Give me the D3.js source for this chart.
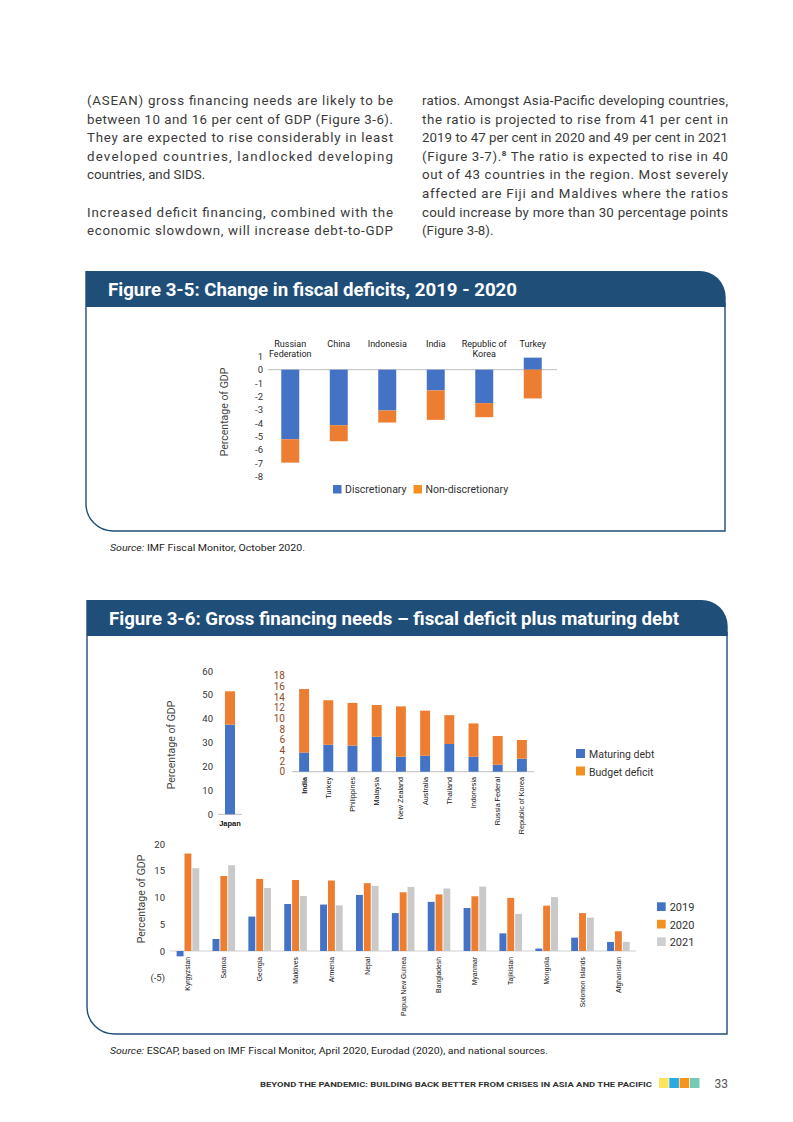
<!DOCTYPE html>
<html>
<head>
<meta charset="utf-8">
<script src="https://cdn.jsdelivr.net/npm/d3@7"></script>
<style>
body { margin: 0; background: #fff; }
svg { display: block; font-family: Roboto, "Liberation Sans", sans-serif; }
</style>
</head>
<body>
<div id="page"></div>
<script>
'use strict';

// ---- body text ('~' at the start marks a line that is not justified) ----
let leftLines = [
	'(ASEAN) gross financing needs are likely to be',
	'between 10 and 16 per cent of GDP (Figure 3-6).',
	'They are expected to rise considerably in least',
	'developed countries, landlocked developing',
	'~countries, and SIDS.',
	'',
	'Increased deficit financing, combined with the',
	'economic slowdown, will increase debt-to-GDP',
];
let rightLines = [
	'ratios. Amongst Asia-Pacific developing countries,',
	'the ratio is projected to rise from 41 per cent in',
	'2019 to 47 per cent in 2020 and 49 per cent in 2021',
	'(Figure 3-7).|8| The ratio is expected to rise in 40',
	'out of 43 countries in the region. Most severely',
	'affected are Fiji and Maldives where the ratios',
	'could increase by more than 30 percentage points',
	'~(Figure 3-8).',
];

// ---- Figure 3-5 ----
let f5Countries = ['Russian Federation', 'China', 'Indonesia', 'India', 'Republic of Korea', 'Turkey'];
let f5Labels = [['Russian', 'Federation'], ['China'], ['Indonesia'], ['India'], ['Republic of', 'Korea'], ['Turkey']];
let f5Discretionary = [-5.2, -4.15, -3.05, -1.55, -2.5, 0.9];
let f5NonDiscretionary = [-1.75, -1.2, -0.9, -2.2, -1.05, -2.15];
let f5Series = ['Discretionary', 'Non-discretionary'];
let f5Ticks = [1, 0, -1, -2, -3, -4, -5, -6, -7, -8];

// ---- Figure 3-6, Japan ----
let jpCountries = ['Japan'];
let jpMaturing = [37.5];
let jpDeficit = [14];
let jpTicks = [0, 10, 20, 30, 40, 50, 60];

// ---- Figure 3-6, other economies ----
let gfnCountries = ['India', 'Turkey', 'Philippines', 'Malaysia', 'New Zealand', 'Australia', 'Thailand', 'Indonesia', 'Russia Federal', 'Republic of Korea'];
let gfnMaturing = [3.6, 5.05, 4.9, 6.55, 2.8, 3.0, 5.2, 2.8, 1.3, 2.45];
let gfnDeficit = [11.9, 8.35, 8.0, 5.95, 9.45, 8.45, 5.4, 6.25, 5.4, 3.5];
let gfnSeries = ['Maturing debt', 'Budget deficit'];
let gfnTicks = [0, 2, 4, 6, 8, 10, 12, 14, 16, 18];

// ---- Figure 3-6, lower panel ----
let lowCountries = ['Kyrgyzstan', 'Samoa', 'Georgia', 'Maldives', 'Armenia', 'Nepal', 'Papua New Guinea', 'Bangladesh', 'Myanmar', 'Tajikistan', 'Mongolia', 'Solomon Islands', 'Afghanistan'];
let low2019 = [-1.0, 2.25, 6.45, 8.8, 8.7, 10.5, 7.1, 9.2, 8.05, 3.3, 0.45, 2.5, 1.7];
let low2020 = [18.25, 14.05, 13.5, 13.3, 13.2, 12.7, 11.0, 10.6, 10.25, 9.95, 8.5, 7.1, 3.7];
let low2021 = [15.5, 16.05, 11.8, 10.3, 8.55, 12.2, 12.0, 11.7, 12.05, 6.95, 10.1, 6.25, 1.7];
let lowYears = ['2019', '2020', '2021'];
let lowTicks = [-5, 0, 5, 10, 15, 20];

const BLUE = '#4472c4', ORANGE = '#ed7d31', GREY = '#c9c9c9', NAVY = '#1f4e79';
const TXT = '#3a3a3a';

let svg = d3.select('#page').append('svg')
	.attr('width', 793)
	.attr('height', 1122)
	;

// ---------- body paragraphs ----------
function column(lines, x, width, y0) {
	let g = svg.append('g').attr('fill', TXT).style('font-size', '13.3px');
	lines.forEach(function(line, i) {
		if (!line) return;
		let ragged = line[0] == '~';
		if (ragged) line = line.substring(1);
		let t = g.append('text').attr('x', x).attr('y', y0 + i * 18.6);
		let parts = line.split('|');
		parts.forEach(function(p, j) {
			let ts = t.append('tspan').text(p);
			if (j == 1) {
				ts.attr('dy', -5).style('font-size', '8px').style('font-weight', 'bold');
			}
			if (j == 2) {
				ts.attr('dy', 5);
			}
		});
		if (!ragged) {
			t.attr('textLength', width).attr('lengthAdjust', 'spacing');
		}
	});
}
column(leftLines, 87, 306, 105);
column(rightLines, 422, 306, 105);

// ---------- figure frames ----------
function frame(top, hdrBottom, bottom, left, right, title, titleWidth) {
	svg.append('path')
		.attr('d', `M${left},${hdrBottom} L${left},${bottom - 27} A27,27 0 0 0 ${left + 27},${bottom} L${right},${bottom} L${right},${hdrBottom - 4}`)
		.attr('fill', 'none')
		.attr('stroke', NAVY)
		.attr('stroke-width', 1.4)
		;
	svg.append('path')
		.attr('d', `M${left - 0.7},${hdrBottom} L${left - 0.7},${top} L${right - 26},${top} A26,26 0 0 1 ${right + 0.7},${top + 26} L${right + 0.7},${hdrBottom} Z`)
		.attr('fill', NAVY)
		;
	svg.append('text')
		.attr('x', left + 22)
		.attr('y', top + 25)
		.attr('fill', '#fff')
		.style('font-size', '18px')
		.style('font-weight', 'bold')
		.attr('textLength', titleWidth)
		.attr('lengthAdjust', 'spacingAndGlyphs')
		.text(title)
		;
}
frame(271, 307, 531, 86, 725, 'Figure 3-5: Change in fiscal deficits, 2019 - 2020', 409);
frame(600, 636, 1034, 87, 727, 'Figure 3-6: Gross financing needs \u2013 fiscal deficit plus maturing debt', 570);

function source(y, rest, width) {
	let t = svg.append('text')
		.attr('x', 110).attr('y', y)
		.attr('fill', '#222')
		.style('font-size', '9.6px')
		;
	t.append('tspan').style('font-style', 'italic').text('Source:');
	t.append('tspan').text(' ' + rest);
	t.attr('textLength', width).attr('lengthAdjust', 'spacingAndGlyphs');
}
source(551, 'IMF Fiscal Monitor, October 2020.', 195);
source(1054, 'ESCAP, based on IMF Fiscal Monitor, April 2020, Eurodad (2020), and national sources.', 438);

// ---------- helpers ----------
function yTicks(scale, ticks, x, fmt, color, size) {
	svg.append('g')
		.attr('transform', `translate(${x},0)`)
		.call(d3.axisLeft(scale).tickValues(ticks).tickSize(0).tickPadding(0).tickFormat(fmt))
		.call(a => a.select('.domain').remove())
		.attr('font-family', 'Roboto, sans-serif')
		.attr('font-size', size)
		.call(a => a.selectAll('text').attr('fill', color))
		;
}
function yTitle(x, y, size) {
	svg.append('text')
		.attr('transform', `translate(${x},${y}) rotate(-90)`)
		.attr('text-anchor', 'middle')
		.attr('fill', '#444')
		.style('font-size', size)
		.text('Percentage of GDP')
		;
}
function legend(items, colors, x, y0, dy, sq, size) {
	let g = svg.append('g');
	items.forEach(function(name, i) {
		g.append('rect')
			.attr('x', x).attr('y', y0 + i * dy - sq)
			.attr('width', sq).attr('height', sq)
			.attr('fill', colors[i]);
		g.append('text')
			.attr('x', x + sq + 4).attr('y', y0 + i * dy)
			.attr('fill', '#333')
			.style('font-size', size)
			.text(name);
	});
}
function vLabels(scale, names, yTop, size, boldFirst) {
	svg.append('g').selectAll('text')
		.data(names)
		.join('text')
			.attr('transform', d => `translate(${scale(d) + scale.bandwidth() / 2},${yTop}) rotate(-90)`)
			.attr('text-anchor', 'end')
			.attr('dy', '0.35em')
			.attr('fill', '#111')
			.style('font-family', '"Liberation Sans Narrow", "Liberation Sans", sans-serif')
			.style('font-size', size)
			.style('font-weight', (d, i) => boldFirst && i == 0 ? 'bold' : 'normal')
			.text(d => d)
		;
}

// ---------- Figure 3-5 chart ----------
{
	let rows = f5Countries.map((c, i) => ({country: c, 'Discretionary': f5Discretionary[i], 'Non-discretionary': f5NonDiscretionary[i]}));
	let x = d3.scaleBand().domain(f5Countries).range([266, 557]).paddingInner(0.63).paddingOuter(0.315);
	let y = d3.scaleLinear().domain([-8, 1]).range([476.7, 356.3]);
	let stack = d3.stack().keys(f5Series).offset(d3.stackOffsetDiverging)(rows);

	svg.append('line')
		.attr('x1', 268).attr('x2', 557)
		.attr('y1', y(0)).attr('y2', y(0))
		.attr('stroke', '#bfbfbf').attr('stroke-width', 1);

	svg.append('g').selectAll('g')
		.data(stack)
		.join('g')
			.attr('fill', (d, i) => [BLUE, ORANGE][i])
		.selectAll('rect')
		.data(d => d)
		.join('rect')
			.attr('x', d => x(d.data.country))
			.attr('width', x.bandwidth())
			.attr('y', d => y(Math.max(d[0], d[1])))
			.attr('height', d => Math.abs(y(d[0]) - y(d[1])))
		;

	yTicks(y, f5Ticks, 263, d => String(d), '#333', '9.5px');
	yTitle(228, 412, '10.5px');

	let lab = svg.append('g').attr('fill', '#222').style('font-size', '9px').attr('text-anchor', 'middle');
	f5Countries.forEach(function(c, i) {
		f5Labels[i].forEach(function(l, j) {
			lab.append('text')
				.attr('x', x(c) + x.bandwidth() / 2)
				.attr('y', 347 + j * 10.3)
				.text(l);
		});
	});

	svg.append('g').call(function(g) {
		g.append('rect').attr('x', 333).attr('y', 485).attr('width', 8.5).attr('height', 8.5).attr('fill', BLUE);
		g.append('text').attr('x', 345).attr('y', 493).attr('fill', '#333').style('font-size', '10.5px').text(f5Series[0]);
		g.append('rect').attr('x', 413.5).attr('y', 485).attr('width', 8.5).attr('height', 8.5).attr('fill', '#f39022');
		g.append('text').attr('x', 425.5).attr('y', 493).attr('fill', '#333').style('font-size', '10.5px').text(f5Series[1]);
	});
}

// ---------- Figure 3-6, Japan ----------
{
	let rows = jpCountries.map((c, i) => ({country: c, 'Maturing debt': jpMaturing[i], 'Budget deficit': jpDeficit[i]}));
	let x = d3.scaleBand().domain(jpCountries).range([218, 242]).padding(0.41);
	let y = d3.scaleLinear().domain([0, 60]).range([814.3, 671]);
	let stack = d3.stack().keys(gfnSeries)(rows);

	svg.append('line')
		.attr('x1', 218).attr('x2', 242)
		.attr('y1', y(0)).attr('y2', y(0))
		.attr('stroke', '#bfbfbf');

	svg.append('g').selectAll('g')
		.data(stack)
		.join('g')
			.attr('fill', (d, i) => [BLUE, ORANGE][i])
		.selectAll('rect')
		.data(d => d)
		.join('rect')
			.attr('x', d => x(d.data.country))
			.attr('width', x.bandwidth())
			.attr('y', d => y(d[1]))
			.attr('height', d => y(d[0]) - y(d[1]))
		;

	yTicks(y, jpTicks, 213, d => String(d), '#333', '9.5px');
	yTitle(175, 745, '10.5px');

	svg.append('text')
		.attr('x', x('Japan') + x.bandwidth() / 2)
		.attr('y', 826)
		.attr('text-anchor', 'middle')
		.attr('fill', '#111')
		.style('font-family', '"Liberation Sans Narrow", "Liberation Sans", sans-serif')
		.style('font-size', '7.5px')
		.style('font-weight', 'bold')
		.text('Japan');
}

// ---------- Figure 3-6, other economies ----------
{
	let rows = gfnCountries.map((c, i) => ({country: c, 'Maturing debt': gfnMaturing[i], 'Budget deficit': gfnDeficit[i]}));
	let x = d3.scaleBand().domain(gfnCountries).range([292, 534]).paddingInner(0.59).paddingOuter(0.295);
	let y = d3.scaleLinear().domain([0, 18]).range([771.7, 675.7]);
	let stack = d3.stack().keys(gfnSeries)(rows);

	svg.append('line')
		.attr('x1', 292).attr('x2', 534)
		.attr('y1', y(0)).attr('y2', y(0))
		.attr('stroke', '#bfbfbf');

	svg.append('g').selectAll('g')
		.data(stack)
		.join('g')
			.attr('fill', (d, i) => [BLUE, ORANGE][i])
		.selectAll('rect')
		.data(d => d)
		.join('rect')
			.attr('x', d => x(d.data.country))
			.attr('width', x.bandwidth())
			.attr('y', d => y(d[1]))
			.attr('height', d => y(d[0]) - y(d[1]))
		;

	yTicks(y, gfnTicks, 285, d => String(d), '#8e4a22', '10px');
	vLabels(x, gfnCountries, 777, '7.2px', true);
	legend(gfnSeries, [BLUE, '#f39022'], 576, 758, 17.5, 9, '10.5px');
}

// ---------- Figure 3-6, lower panel ----------
{
	let vals = {'2019': low2019, '2020': low2020, '2021': low2021};
	let x0 = d3.scaleBand().domain(lowCountries).range([170, 636.3]).paddingInner(0.37).paddingOuter(0.185);
	let x1 = d3.scaleBand().domain(lowYears).range([0, x0.bandwidth()]).paddingInner(0.12);
	let y = d3.scaleLinear().domain([-5, 20]).range([977.7, 844.2]);
	let color = d3.scaleOrdinal().domain(lowYears).range([BLUE, ORANGE, GREY]);

	svg.append('line')
		.attr('x1', 170).attr('x2', 636.3)
		.attr('y1', y(0)).attr('y2', y(0))
		.attr('stroke', '#d0d0d0').attr('stroke-width', 1.2);

	svg.append('g').selectAll('g')
		.data(lowCountries)
		.join('g')
			.attr('transform', d => `translate(${x0(d)},0)`)
		.selectAll('rect')
		.data((c, i) => lowYears.map(yr => ({year: yr, v: vals[yr][i]})))
		.join('rect')
			.attr('x', d => x1(d.year))
			.attr('width', x1.bandwidth())
			.attr('y', d => y(Math.max(0, d.v)))
			.attr('height', d => Math.abs(y(d.v) - y(0)))
			.attr('fill', d => color(d.year))
		;

	yTicks(y, lowTicks, 165, d => d < 0 ? '(' + d + ')' : String(d), '#333', '9.5px');
	yTitle(145, 899, '10.5px');
	vLabels(x0, lowCountries, 957, '6.8px', false);
	legend(lowYears, [BLUE, '#f39022', '#cfcfcf'], 657, 911, 17.5, 8.7, '11px');
}

// ---------- footer ----------
svg.append('text')
	.attr('x', 260).attr('y', 1087)
	.attr('fill', '#333')
	.style('font-size', '8px')
	.style('font-weight', 'bold')
	.attr('textLength', 392)
	.attr('lengthAdjust', 'spacingAndGlyphs')
	.text('BEYOND THE PANDEMIC: BUILDING BACK BETTER FROM CRISES IN ASIA AND THE PACIFIC');

svg.append('g').selectAll('rect')
	.data(['#f9e45b', '#29aae1', '#f7941d', '#75c9b7'])
	.join('rect')
		.attr('x', (d, i) => 659 + i * 10.3)
		.attr('y', 1078)
		.attr('width', 9.6)
		.attr('height', 10)
		.attr('fill', d => d)
	;

svg.append('text')
	.attr('x', 728).attr('y', 1088)
	.attr('text-anchor', 'end')
	.attr('fill', '#555')
	.style('font-size', '12px')
	.text('33');
</script>
</body>
</html>
